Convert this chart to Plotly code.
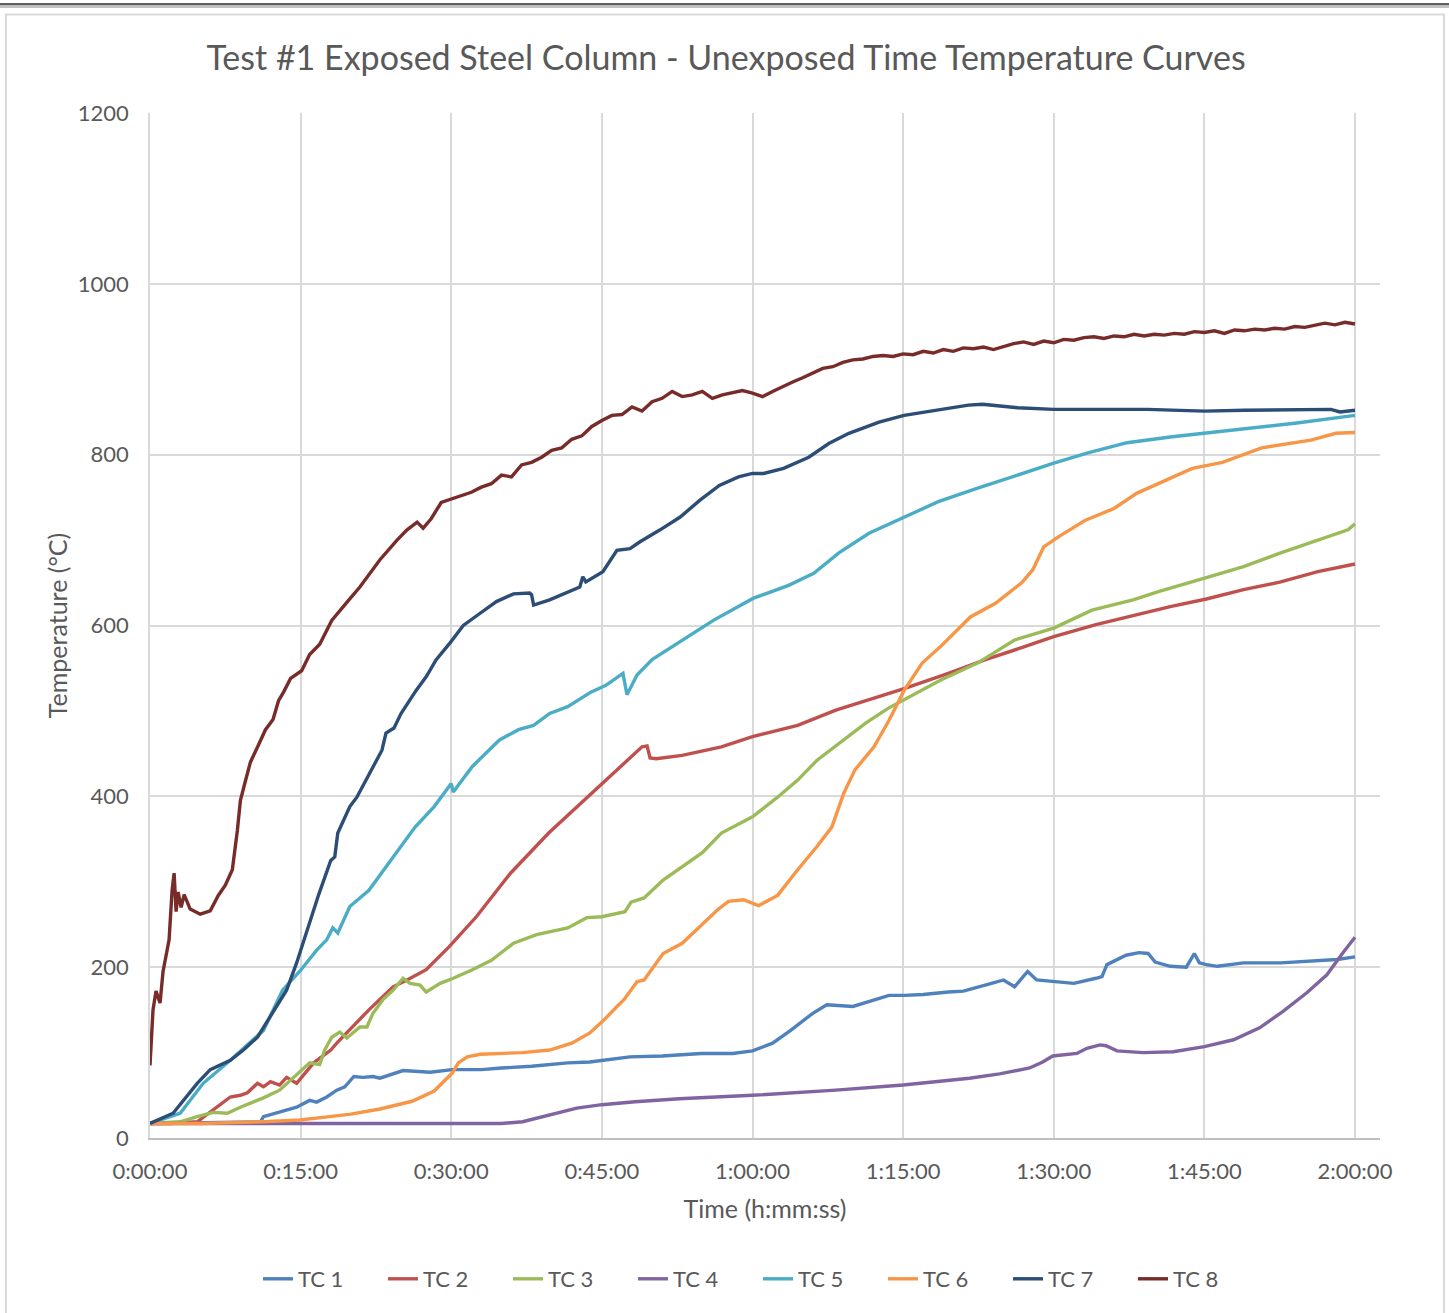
import plotly.graph_objects as go

# ---------------- data (time in minutes, temperature in °C) ----------------
tc1_t = [0, 5, 11.0, 11.3, 12.9, 14.6, 15.9, 16.6, 17.6, 18.6, 19.4, 20.3, 21.2, 22.2, 22.9, 24.0, 25.2, 27.9,
         30.1, 33, 35, 38, 41.6, 43.8, 45.2, 47.8, 51, 54.9, 58, 60, 62, 63.8, 66, 67.4, 70, 72.1, 73.6, 75.1,
         77, 79.5, 81, 83.8, 85, 86.1, 87.4, 88.3, 90, 92, 94.2, 94.8, 95.3, 97.2, 98.5, 99.4, 100.1, 101.6,
         103.2, 104, 104.5, 105.2, 106.3, 108.9, 112.6, 116.3, 118.2, 120]
tc1_v = [17, 18, 19, 25, 30, 36, 44, 42, 48, 56, 60, 72, 71, 72, 70, 74, 79, 77,
         80, 80, 82, 84, 88, 89, 91, 95, 96, 99, 99, 102, 111, 126, 146, 156, 154, 162, 167, 167,
         168, 171, 172, 181, 185, 177, 195, 185, 183, 181, 187, 189, 203, 214, 217, 216, 206, 201,
         200, 216, 205, 203, 201, 205, 205, 207, 209, 212]

tc2_t = [0, 2, 4.7, 6.3, 7, 8.0, 9.0, 9.7, 10.7, 11.3, 12.0, 12.9, 13.6, 14.6, 16.3, 18.0, 18.6, 21.2, 21.8,
         24.2, 25.6, 27.5, 29.8, 32.5, 35.9, 39.7, 43.5, 47.3, 48.3, 49.0, 49.5, 49.8, 50.4, 53, 56.9, 60,
         64.5, 68.3, 72.1, 75.1, 79.5, 83.2, 86.8, 90, 94.2, 97.9, 101.6, 105.2, 108.9, 112.6, 116.3, 120]
tc2_v = [17, 17, 19, 33, 40, 48, 50, 53, 64, 60, 66, 62, 71, 64, 88, 103, 111, 142, 150,
         177, 185, 197, 224, 259, 310, 357, 398, 439, 450, 458, 459, 445, 444, 448, 458, 470,
         483, 501, 515, 526, 544, 560, 574, 587, 601, 612, 622, 631, 642, 651, 663, 672]

tc3_t = [0, 3, 4.7, 6.3, 7.7, 9, 11.3, 12.9, 14.6, 15.9, 16.9, 17.4, 18.1, 18.9, 19.6, 20.9, 21.6, 22.2, 23.2,
         24.2, 25.2, 25.9, 26.9, 27.5, 28.9, 30.2, 32.1, 34, 36.2, 38.5, 41.6, 43.5, 45, 47.3, 47.9, 49.2,
         51.1, 55, 56.9, 60, 62.5, 64.5, 66.4, 69, 71.3, 73.5, 75.1, 78.7, 82.4, 86.1, 90, 93.8, 97.9,
         100.5, 105.2, 108.9, 112.6, 116.3, 119.3, 120]
tc3_v = [17, 19, 25, 30, 29, 36, 47, 56, 74, 88, 86, 103, 118, 124, 117, 130, 130, 146, 162,
         173, 187, 181, 179, 171, 181, 187, 197, 208, 228, 238, 246, 258, 259, 265, 276, 281,
         302, 334, 357, 376, 399, 419, 442, 466, 486, 503, 513, 536, 556, 583, 597, 618, 630,
         640, 656, 669, 685, 700, 712, 719]

tc4_t = [0, 15, 35, 37.1, 39.8, 42.5, 45, 48.3, 52.7, 60, 68.3, 75, 81.6, 84.6, 87.6, 88.9, 89.9, 92.3,
         93.3, 94.6, 95.2, 96.3, 98.9, 101.9, 105, 107.9, 110.5, 112.8, 115.2, 117.2, 118.8, 120]
tc4_v = [17, 17, 17, 19, 27, 35, 39, 42.5, 46, 50, 56, 62, 70, 75, 82, 89, 96, 99,
         105, 109, 108, 102, 100, 101, 107, 115, 129, 148, 170, 191, 217, 235]

tc5_t = [0, 3.0, 5.3, 8.0, 11.3, 13.2, 14.9, 16.6, 17.6, 18.2, 18.7, 19.9, 21.8, 24.5, 26.4, 28.3, 30.0,
         30.2, 32.1, 34.8, 36.7, 38.2, 39.8, 41.6, 43.9, 45.4, 47.1, 47.5, 48.5, 50, 53.1, 56.1, 60.1,
         63.6, 66.1, 68.6, 71.6, 75.1, 78.5, 82.5, 86.4, 90, 93.4, 97.3, 101.8, 105, 109.2, 114.2, 120]
tc5_v = [17, 29, 64, 91, 126, 173, 195, 220, 232, 246, 240, 271, 290, 334, 364, 388, 415,
         405, 435, 466, 478, 483, 497, 505, 522, 530, 544, 519, 542, 560, 583, 606, 632,
         647, 661, 685, 708, 727, 745, 761, 776, 790, 802, 814, 821, 825, 831, 837, 846]

tc6_t = [0, 5, 11.3, 14.9, 17.9, 20, 22.9, 26.1, 28.3, 30.1, 30.7, 31.6, 32.9, 35, 37.1, 39.8, 42, 43.8,
         45.2, 46.5, 47.2, 48.5, 49.2, 51.1, 53, 54.9, 56.5, 57.6, 59.1, 60.6, 62.5, 64.5, 66.4, 67.9,
         69.1, 70.2, 72.1, 73.6, 75.1, 76.9, 78.7, 81.7, 84.2, 86.8, 87.9, 89.0, 90.5, 93.1, 96, 98.3,
         103.8, 106.8, 110.7, 115.6, 118.1, 120]
tc6_v = [17, 17, 19, 21, 25, 28, 34, 43, 55, 76, 88, 95, 98, 99, 100, 103, 111, 123,
         138, 154, 162, 183, 185, 216, 228, 249, 267, 277, 279, 272, 284, 314, 341, 364,
         404, 431, 458, 489, 524, 556, 575, 610, 626, 650, 665, 692, 704, 723, 737, 755,
         784, 791, 808, 817, 825, 826]

tc7_t = [0, 2.3, 4.7, 6.0, 8.0, 9.3, 10.7, 12.2, 13.6, 14.6, 15.7, 16.8, 18.0, 18.4, 18.7, 19.9, 20.6, 22.2,
         23.1, 23.5, 24.3, 25.0, 26.5, 27.5, 28.5, 29.9, 31.2, 32.6, 34.5, 36.2, 37.8, 38.0, 38.2, 39.8,
         41.5, 42.8, 43.1, 43.4, 45.1, 46.5, 47.8, 48.8, 50.8, 52.8, 54.8, 56.7, 58.6, 60, 61.1, 63.1,
         65.6, 67.6, 69.6, 72.6, 75.1, 78.5, 81.5, 82.9, 84.4, 86.4, 90, 99.3, 105, 109, 117.6, 118.5, 120]
tc7_v = [17, 29, 64, 80, 91, 103, 118, 146, 173, 205, 245, 285, 325, 329, 357, 388, 399, 434,
         454, 474, 480, 497, 524, 540, 560, 580, 600, 612, 628, 637, 638, 636, 624, 630,
         638, 645, 657, 651, 663, 688, 690, 698, 712, 727, 747, 764, 774, 778, 778, 784,
         797, 813, 825, 838, 846, 852, 858, 859, 857, 855, 853, 853, 851, 852, 853, 850, 852]

tc8_t = [0, 0.3, 0.6, 1.0, 1.3, 1.9, 2.2, 2.4, 2.6, 2.8, 3.1, 3.4, 4.0, 5.0, 6.0, 6.8, 7.5, 8.2, 8.7, 9.0,
         9.5, 10.0, 10.8, 11.5, 12.25, 12.8, 13.3, 14.0, 15.1, 15.9, 16.9, 18.1, 19.6, 20.9, 22.9, 24.6,
         25.6, 26.6, 27.2, 28, 29, 30, 31, 32, 33, 34, 35, 36, 37, 38, 39, 40, 41, 42, 43, 44, 45, 46, 47,
         48, 49, 50, 51, 52, 53, 54, 55, 56, 57, 58, 59, 60, 61, 62, 63, 64, 65, 66, 67, 68, 69, 70, 71,
         72, 73, 74, 75, 76, 77, 78, 79, 80, 81, 82, 83, 84, 85, 86, 87, 88, 89, 90, 91, 92, 93, 94, 95,
         96, 97, 98, 99, 100, 101, 102, 103, 104, 105, 106, 107, 108, 109, 110, 111, 112, 113, 114, 115,
         116, 117, 118, 119, 120]
tc8_v = [85, 150, 172, 158, 195, 232, 290, 310, 265, 288, 270, 285, 268, 262, 266, 284, 296, 314, 360, 395,
         418, 440, 460, 478, 490, 512, 522, 538, 547, 566, 578, 606, 627, 645, 677, 700,
         712, 721, 714, 725, 744, 748, 751, 756, 762, 766, 776, 774, 788, 791, 797, 805, 808, 818, 822,
         833, 840, 846, 847, 856, 851, 862, 866, 874, 868, 870, 874, 866, 870, 872, 875, 872, 868, 874,
         880, 885, 890, 896, 901, 903, 908, 911, 912, 915, 916, 915, 918, 917, 921, 919, 923, 921, 925,
         924, 926, 923, 927, 930, 932, 929, 933, 931, 935, 934, 937, 938, 936, 939, 938, 941, 939, 941,
         940, 942, 941, 944, 943, 945, 942, 946, 945, 947, 946, 948, 947, 950, 949, 952, 954, 952, 955,
         953]

series_names = ["TC 1", "TC 2", "TC 3", "TC 4", "TC 5", "TC 6", "TC 7", "TC 8"]
series_colors = ["#4F81BD", "#C0504D", "#9BBB59", "#8064A2", "#4BACC6", "#F79646", "#2C4D75", "#772C2A"]
series_t = [tc1_t, tc2_t, tc3_t, tc4_t, tc5_t, tc6_t, tc7_t, tc8_t]
series_v = [tc1_v, tc2_v, tc3_v, tc4_v, tc5_v, tc6_v, tc7_v, tc8_v]

x_tick_vals = [0, 15, 30, 45, 60, 75, 90, 105, 120]
x_tick_text = ["0:00:00", "0:15:00", "0:30:00", "0:45:00", "1:00:00", "1:15:00", "1:30:00", "1:45:00", "2:00:00"]
y_tick_vals = [0, 200, 400, 600, 800, 1000, 1200]

FONT = "Lato"
TXT = "#595959"
GRID = "#D9D9D9"

fig = go.Figure()
for name, col, t, v in zip(series_names, series_colors, series_t, series_v):
    fig.add_trace(go.Scatter(x=t, y=v, name=name, mode="lines",
                             line=dict(color=col, width=3.4)))

W, H = 1449, 1313
L, R, T, B = 150, 69, 113, 175
pw, ph = W - L - R, H - T - B


def px(X):
    return (X - L) / pw


def py(Y):
    return (H - B - Y) / ph


shapes = [
    # outer chart frame
    dict(type="rect", xref="paper", yref="paper", x0=px(6), x1=px(1444), y0=py(1330), y1=py(14.5),
         line=dict(color="#D9D9D9", width=2), fillcolor="rgba(0,0,0,0)", layer="below"),
    # top dark bars
    dict(type="rect", xref="paper", yref="paper", x0=px(0), x1=px(1449), y0=py(5.5), y1=py(3),
         line=dict(width=0), fillcolor="#5F5F5F", layer="below"),
    dict(type="rect", xref="paper", yref="paper", x0=px(0), x1=px(1449), y0=py(8), y1=py(5.5),
         line=dict(width=0), fillcolor="#C3C3C3", layer="below"),
]

fig.update_layout(
    width=W, height=H,
    margin=dict(l=L, r=R, t=T, b=B, autoexpand=False),
    paper_bgcolor="white", plot_bgcolor="white",
    font=dict(family=FONT, color=TXT, size=22),
    title=dict(text="Test #1 Exposed Steel Column - Unexposed Time Temperature Curves",
               x=726 / W, xanchor="center", y=1 - 58 / H, yanchor="middle",
               font=dict(family=FONT, size=34, color=TXT)),
    xaxis=dict(range=[0, (1380 - L) / (1355 - L) * 120], tickvals=x_tick_vals, ticktext=x_tick_text,
               showgrid=True, gridcolor=GRID, gridwidth=1.5, zeroline=False,
               showline=True, linecolor="#BFBFBF", linewidth=1.5,
               ticks="", ticklabelstandoff=13,
               tickfont=dict(family=FONT, size=22, color=TXT),
               title=dict(text="Time (h:mm:ss)", standoff=17, font=dict(family=FONT, size=25, color=TXT))),
    yaxis=dict(range=[0, 1200], tickvals=y_tick_vals,
               showgrid=True, gridcolor=GRID, gridwidth=1.5, zeroline=False,
               showline=True, linecolor=GRID, linewidth=1.5,
               ticks="", ticklabelstandoff=15,
               tickfont=dict(family=FONT, size=22, color=TXT),
               title=dict(text="Temperature (°C)", standoff=3, font=dict(family=FONT, size=25, color=TXT))),
    legend=dict(orientation="h", x=px(758), xanchor="center", y=py(1279), yanchor="middle",
                font=dict(family=FONT, size=22, color=TXT), entrywidth=80, entrywidthmode="pixels",
                bgcolor="rgba(0,0,0,0)", traceorder="normal"),
    shapes=shapes,
    showlegend=True,
)

fig.write_html("out.html", config={"displayModeBar": False},
               post_script="document.body.style.margin='0px';document.body.style.overflow='hidden';")
